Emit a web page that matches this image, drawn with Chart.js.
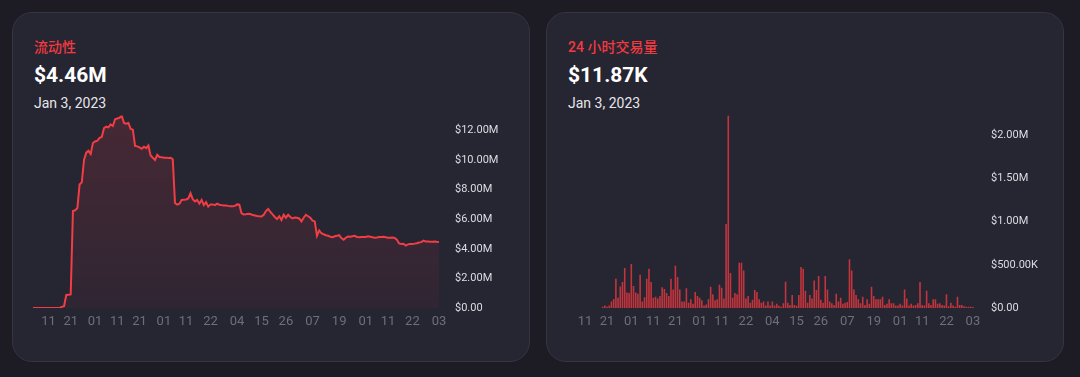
<!DOCTYPE html>
<html>
<head>
<meta charset="utf-8">
<script src="https://cdn.jsdelivr.net/npm/chart.js@4.4.0/dist/chart.umd.min.js"></script>
<style>
  html, body { margin: 0; padding: 0; width: 1080px; height: 377px; overflow: hidden; background: #1d1c25;
    font-family: Roboto, "Noto Sans CJK SC", sans-serif; }
  .card { position: absolute; top: 12px; width: 518px; height: 350px; box-sizing: border-box;
    background: #262532; border: 1px solid #353441; border-radius: 20px; }
  .title { position: absolute; left: 21px; top: 26px; font-size: 14px; line-height: 16px; color: #f23a41; font-weight: 500; }
  .value { position: absolute; left: 21px; top: 52px; font-size: 21px; line-height: 21px; color: #fff; font-weight: 700; }
  .date { position: absolute; left: 21px; top: 83px; font-size: 14px; line-height: 14px; color: #e6e6ec; }
  canvas { position: absolute; }
</style>
</head>
<body>
<div class="card" style="left:12px">
  <div class="title">流动性</div>
  <div class="value">$4.46M</div>
  <div class="date">Jan 3, 2023</div>
</div>
<div class="card" style="left:546px">
  <div class="title">24 小时交易量</div>
  <div class="value">$11.87K</div>
  <div class="date">Jan 3, 2023</div>
</div>
<canvas id="liq" width="491" height="245" style="left:28px; top:93px"></canvas>
<canvas id="vol" width="492" height="246" style="left:562px; top:92px"></canvas>
<script>
// one point per day, Jul 4 2022 .. Jan 3 2023
var dates = [];
var d0 = new Date(Date.UTC(2022, 6, 4));
for (var i = 0; i < 184; i++) {
  var d = new Date(d0.getTime() + i * 86400000);
  dates.push(d.toISOString().slice(0, 10));
}

var tickDates = ['2022-07-11', '2022-07-21', '2022-08-01', '2022-08-11', '2022-08-21', '2022-09-01',
  '2022-09-11', '2022-09-22', '2022-10-04', '2022-10-15', '2022-10-26', '2022-11-07', '2022-11-19',
  '2022-12-01', '2022-12-11', '2022-12-22', '2023-01-03'];

var liquidityTicks = [0, 2, 4, 6, 8, 10, 12];   // $M
var volumeTicks = [0, 500, 1000, 1500, 2000];    // $K

// liquidity, $M
var liquidity = [
  0, 0, 0, 0, 0, 0, 0, 0, 0, 0,
  0, 0, 0, 0.08, 0.12, 0.88, 0.9, 0.92, 6.55, 6.6,
  6.75, 8.35, 8.5, 10.0, 10.5, 10.62, 10.4, 11.15, 11.25, 11.3,
  11.5, 11.55, 12.15, 12.25, 12.2, 12.4, 12.3, 12.75, 12.8, 12.85,
  13.0, 12.5, 12.45, 12.5, 12.1, 12.05, 10.95, 10.92, 10.85, 10.76,
  10.9, 10.8, 10.98, 10.3, 10.15, 10.0, 10.35, 10.2, 10.18, 10.16,
  10.15, 10.14, 10.15, 10.05, 7.1, 6.98, 7.05, 7.3, 7.32, 7.33,
  7.4, 7.75, 7.35, 7.2, 7.3, 7.05, 7.3, 6.95, 7.15, 6.85,
  7.0, 7.0, 6.95, 7.05, 6.98, 6.95, 6.92, 6.93, 6.9, 6.88,
  6.87, 6.9, 7.0, 6.98, 6.4, 6.32, 6.33, 6.36, 6.35, 6.28,
  6.25, 6.22, 6.2, 6.19, 6.3, 6.55, 6.69, 6.5, 6.32, 6.15,
  6.01, 6.2, 5.95, 6.3, 6.1, 6.3, 6.15, 6.05, 6.12, 6.1,
  6.05, 5.85, 6.1, 6.3, 6.2, 6.1, 5.9, 5.85, 4.88, 5.24,
  5.05, 4.98, 4.92, 4.88, 4.82, 4.79, 4.85, 4.88, 4.92, 4.72,
  4.61, 4.75, 4.83, 4.82, 4.85, 4.88, 4.8, 4.78, 4.8, 4.79,
  4.8, 4.85, 4.82, 4.78, 4.75, 4.77, 4.8, 4.8, 4.82, 4.78,
  4.75, 4.74, 4.76, 4.74, 4.62, 4.36, 4.33, 4.34, 4.22, 4.3,
  4.32, 4.33, 4.35, 4.38, 4.42, 4.45, 4.55, 4.5, 4.5, 4.48,
  4.48, 4.49, 4.47, 4.46
];

// 24h volume, $K
var volume = [
  0, 0, 0, 0, 0, 0, 0, 0, 0, 0, 0, 0, 0, 0, 0,
  15, 30, 15, 30, 75, 105, 340, 120, 250, 300,
  465, 180, 175, 510, 255, 180, 165, 385, 75, 125,
  340, 455, 300, 120, 130, 110, 140, 240, 220, 175,
  140, 340, 215, 490, 360, 215, 75, 75, 230, 60,
  100, 50, 185, 140, 120, 90, 30, 40, 100, 245,
  160, 90, 100, 270, 235, 110, 975, 2230, 405, 120,
  175, 160, 525, 525, 435, 110, 140, 60, 95, 210,
  185, 100, 60, 75, 30, 75, 30, 75, 30, 50,
  25, 15, 55, 305,
  60, 35, 150, 35, 25, 150, 475, 455, 200, 60,
  150, 110, 320, 210, 370, 95, 60, 370, 215, 75,
  55, 35, 165, 75, 120, 50, 60, 70, 565, 435,
  215, 150, 100, 55, 130, 35, 100, 50, 245, 140,
  100, 100,
  100, 130, 35, 50, 100, 55, 55, 30, 30, 50,
  30, 215, 110, 30, 50, 30, 35, 55, 300, 35,
  30, 200, 55, 35, 100, 100, 50, 55, 35, 30,
  160, 20, 60, 30, 15, 130, 35, 35, 20, 15,
  15, 15, 11.87
];

Chart.defaults.font.family = 'Roboto, "Noto Sans CJK SC", sans-serif';

function dayTick(value, index) {
  var d = dates[index];
  return tickDates.indexOf(d) >= 0 ? d.slice(8) : null;
}

function xAxis(offset) {
  return {
    offset: offset,
    grid: { display: false, drawTicks: false },
    border: { display: false },
    ticks: { autoSkip: false, maxRotation: 0, padding: 6, color: '#6f6e7b', font: { size: 13 }, callback: dayTick },
    afterFit: function(s) { s.height = 30; }
  };
}

function yAxis(values, ticks, pad, fmt) {
  return {
    position: 'right',
    min: 0,
    max: Math.max.apply(null, values),
    grid: { display: false, drawTicks: false },
    border: { display: false },
    ticks: { padding: pad, color: '#dcdce3', font: { size: 11 }, callback: fmt },
    afterBuildTicks: function(s) { s.ticks = ticks.map(function(v) { return { value: v }; }); },
    afterFit: function(s) { s.width = 80; }
  };
}

new Chart(document.getElementById('liq'), {
  type: 'line',
  data: {
    labels: dates,
    datasets: [{
      data: liquidity,
      borderColor: '#f23d45',
      borderWidth: 2,
      pointRadius: 0,
      tension: 0,
      fill: true,
      backgroundColor: function(context) {
        var area = context.chart.chartArea;
        if (!area) return 'transparent';
        var g = context.chart.ctx.createLinearGradient(0, area.top, 0, area.bottom);
        g.addColorStop(0, 'rgba(240,60,70,0.16)');
        g.addColorStop(1, 'rgba(240,60,70,0.05)');
        return g;
      }
    }]
  },
  options: {
    responsive: false,
    animation: false,
    layout: { padding: { left: 5 } },
    plugins: { legend: { display: false }, tooltip: { enabled: false } },
    scales: {
      x: xAxis(false),
      y: yAxis(liquidity, liquidityTicks, 16, function(v) {
        return v === 0 ? '$0.00' : '$' + v.toFixed(2) + 'M';
      })
    }
  }
});

new Chart(document.getElementById('vol'), {
  type: 'bar',
  data: {
    labels: dates,
    datasets: [{
      data: volume,
      backgroundColor: 'rgba(222,56,63,0.85)',
      borderWidth: 0,
      barPercentage: 0.72,
      categoryPercentage: 1
    }]
  },
  options: {
    responsive: false,
    animation: false,
    layout: { padding: { left: 6.5 } },
    plugins: { legend: { display: false }, tooltip: { enabled: false } },
    scales: {
      x: xAxis(true),
      y: yAxis(volume, volumeTicks, 17, function(v) {
        if (v === 0) return '$0.00';
        return v >= 1000 ? '$' + (v / 1000).toFixed(2) + 'M' : '$' + v.toFixed(2) + 'K';
      })
    }
  }
});
</script>
</body>
</html>
